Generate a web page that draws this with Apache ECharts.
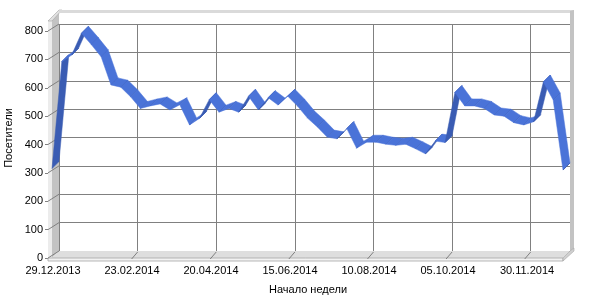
<!DOCTYPE html>
<html><head><meta charset="utf-8">
<script src="https://cdn.jsdelivr.net/npm/echarts@6/dist/echarts.min.js"></script>
<style>html,body{margin:0;padding:0;background:#fff}#c{width:600px;height:300px}</style>
</head><body><div id="c"></div>
<script>
const weeks = ['29.12.2013','05.01.2014','12.01.2014','19.01.2014','26.01.2014','02.02.2014','09.02.2014','16.02.2014',
  '23.02.2014','02.03.2014','09.03.2014','16.03.2014','23.03.2014','30.03.2014','06.04.2014','13.04.2014',
  '20.04.2014','27.04.2014','04.05.2014','11.05.2014','18.05.2014','25.05.2014','01.06.2014','08.06.2014',
  '15.06.2014','22.06.2014','29.06.2014','06.07.2014','13.07.2014','20.07.2014','27.07.2014','03.08.2014',
  '10.08.2014','17.08.2014','24.08.2014','31.08.2014','07.09.2014','14.09.2014','21.09.2014','28.09.2014',
  '05.10.2014','12.10.2014','19.10.2014','26.10.2014','02.11.2014','09.11.2014','16.11.2014','23.11.2014',
  '30.11.2014','07.12.2014','14.12.2014','21.12.2014','28.12.2014'];
const visitors = [315,692,715,792,752,709,610,602,568,527,536,543,522,540,469,492,
  558,514,527,514,570,522,565,539,570,535,493,462,426,420,456,387,
  408,408,401,397,401,385,367,412,407,583,536,536,527,504,500,477,
  469,480,620,557,310];
const yTicks = [0,100,200,300,400,500,600,700,800];
const xTitle = 'Начало недели';
const yTitle = 'Посетители';

const FONT = "'Liberation Sans',Arial,sans-serif";
const DX = 7, DY = 7;
const GRID = '#808080';

const chart = echarts.init(document.getElementById('c'), null, {renderer: 'canvas'});

const segData = visitors.map((v, i) => [i, v, i < visitors.length - 1 ? visitors[i + 1] : v]);

chart.setOption({
  animation: false,
  grid: [
    {left: 59, right: 30, top: 24, bottom: 49},   // back plane
    {left: 48, right: 37, top: 31, bottom: 42},   // front y axis
    {left: 53, width: 513.5, top: 31, bottom: 40} // date labels
  ],
  xAxis: [
    {type: 'category', gridIndex: 0, data: weeks, boundaryGap: false,
     axisLine: {show: false}, axisTick: {show: false}, axisLabel: {show: false},
     splitLine: {show: true, interval: 7, lineStyle: {color: GRID, width: 1}}},
    {type: 'category', gridIndex: 1, data: weeks, boundaryGap: false, show: false},
    {type: 'category', gridIndex: 2, data: weeks, boundaryGap: false,
     axisLine: {show: false}, axisTick: {show: false}, splitLine: {show: false},
     axisLabel: {interval: 7, margin: 5, color: '#000', fontSize: 11, fontFamily: FONT}}
  ],
  yAxis: [
    {type: 'value', gridIndex: 0, min: yTicks[0], max: yTicks[yTicks.length - 1], interval: 100,
     axisLine: {show: false}, axisTick: {show: false}, axisLabel: {show: false},
     splitLine: {show: true, lineStyle: {color: GRID, width: 1}}},
    {type: 'value', gridIndex: 1, min: yTicks[0], max: yTicks[yTicks.length - 1], interval: 100,
     axisLine: {show: true, lineStyle: {color: GRID}},
     axisTick: {show: true, length: 3, lineStyle: {color: GRID}},
     axisLabel: {margin: 5, color: '#000', fontSize: 11, fontFamily: FONT},
     splitLine: {show: false}},
    {type: 'value', gridIndex: 2, show: false, min: 0, max: 800}
  ],
  series: [{
    type: 'custom',
    xAxisIndex: 0, yAxisIndex: 0,
    clip: false,
    z: 5,
    data: segData,
    renderItem: function (params, api) {
      const i = params.dataIndex;
      if (i >= visitors.length - 1) return;
      const b0 = api.coord([api.value(0), api.value(1)]);
      const b1 = api.coord([api.value(0) + 1, api.value(2)]);
      const f0 = [b0[0] - DX, b0[1] + DY];
      const f1 = [b1[0] - DX, b1[1] + DY];
      const sx = b1[0] - b0[0], sy = b1[1] - b0[1];
      const under = (sx + sy) < 0;
      const fill = under ? '#3a5cb3' : '#4a73d8';
      return {
        type: 'group',
        children: [
          {type: 'polygon', shape: {points: [f0, f1, b1, b0]},
           style: {fill: fill, stroke: fill, lineWidth: 0.5}},
          {type: 'line', shape: {x1: f1[0], y1: f1[1], x2: b1[0], y2: b1[1]},
           style: {stroke: '#3556a8', lineWidth: 0.8}}
        ]
      };
    }
  }]
});

// decorative 3D box, ticks and titles
const g = [];
const wallFill = '#c3c3c3', lightFill = '#e2e2e2', edge = '#a6a6a6';
g.push({type: 'polygon', z: 1, shape: {points: [[52, 258], [52, 18], [59, 11], [59, 251]]},
  style: {fill: wallFill, stroke: null}});
g.push({type: 'polygon', z: 1, shape: {points: [[48, 259], [48, 21], [52, 18], [52, 258]]},
  style: {fill: '#ececec', stroke: null}});
g.push({type: 'polygon', z: 1, shape: {points: [[48, 21], [59, 10], [62, 10], [52, 21]]},
  style: {fill: lightFill, stroke: edge, lineWidth: 0.6}});
g.push({type: 'polygon', z: 1, shape: {points: [[59, 10], [574, 10], [574, 13], [59, 13]]},
  style: {fill: '#dadada', stroke: null}});
g.push({type: 'polygon', z: 1, shape: {points: [[570, 11], [574, 10], [574, 248], [570, 252]]},
  style: {fill: wallFill, stroke: null}});
g.push({type: 'polygon', z: 1, shape: {points: [[52, 258], [563, 258], [570, 251], [59, 251]]},
  style: {fill: '#dedede', stroke: null}});
g.push({type: 'polygon', z: 1, shape: {points: [[48, 258], [563, 258], [563, 261], [48, 261]]},
  style: {fill: '#f2f2f2', stroke: edge, lineWidth: 0.8}});
g.push({type: 'polygon', z: 1, shape: {points: [[563, 258], [570, 251], [574, 248], [574, 251], [563, 261]]},
  style: {fill: '#d0d0d0', stroke: edge, lineWidth: 0.6}});
yTicks.forEach(v => {
  const yf = chart.convertToPixel({yAxisIndex: 1}, v);
  const yb = chart.convertToPixel({yAxisIndex: 0}, v);
  g.push({type: 'line', z: 2, shape: {x1: 48, y1: yf, x2: 59, y2: yb},
    style: {stroke: GRID, lineWidth: 1}});
});
for (let i = 8; i < weeks.length - 1; i += 8) {
  const xb = chart.convertToPixel({xAxisIndex: 0}, i);
  g.push({type: 'line', z: 2, shape: {x1: xb - 6, y1: 259, x2: xb, y2: 252},
    style: {stroke: GRID, lineWidth: 1}});
}
g.push({type: 'text', z: 3, x: 308, y: 290,
  style: {text: xTitle, fill: '#000', font: '11px ' + FONT, align: 'center', verticalAlign: 'middle'}});
g.push({type: 'text', z: 3, x: 9, y: 138, rotation: Math.PI / 2,
  style: {text: yTitle, fill: '#000', font: '11px ' + FONT, align: 'center', verticalAlign: 'middle'}});

chart.setOption({graphic: g});
</script>
</body></html>
